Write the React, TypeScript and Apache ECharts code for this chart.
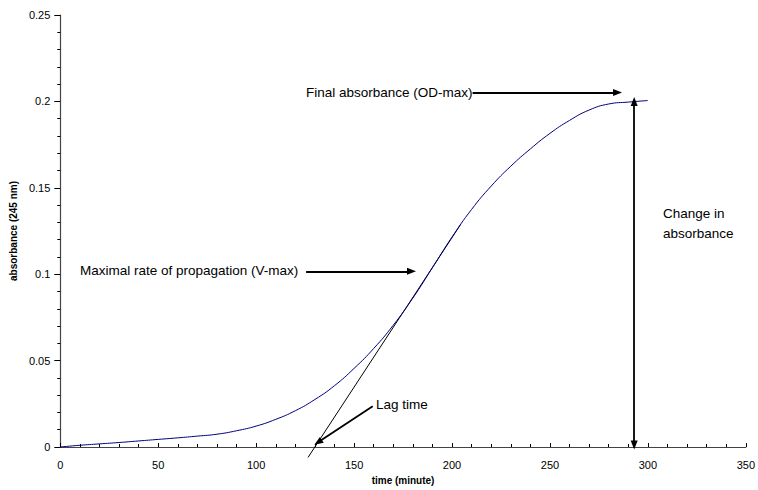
import React, { useEffect, useRef } from "react";
import * as echarts from "echarts";

const times = [0, 10, 20, 30, 40, 50, 60, 70, 80, 90, 100, 110, 120, 130, 140, 150, 160, 170, 180, 190, 200, 210, 220, 230, 240, 250, 260, 270, 280, 290, 300];
const absorbance = [0, 0.001, 0.0018, 0.0026, 0.0035, 0.0044, 0.0053, 0.0063, 0.0074, 0.0094, 0.0121, 0.016, 0.021, 0.0275, 0.0355, 0.0455, 0.057, 0.0705, 0.0862, 0.1038, 0.1215, 0.1375, 0.151, 0.1625, 0.1725, 0.1815, 0.189, 0.195, 0.1985, 0.1996, 0.2005];

const xTicks = [0, 50, 100, 150, 200, 250, 300, 350];
const yTicks = [0, 0.05, 0.1, 0.15, 0.2, 0.25];

// annotation anchor points in data units [time, absorbance]
const tangentLine = [[126.5, -0.006], [204.5, 0.1290]];
const odMaxArrow = [[210.5, 0.2052], [284.5, 0.2052]];
const changeArrow = [[293, 0.2], [293, 0.0012]];
const vMaxArrow = [[125.5, 0.1017], [179.3, 0.1017]];
const lagArrow = [[159.5, 0.0236], [131.6, 0.0027]];

const texts = {
  odMax: "Final absorbance (OD-max)",
  vMax: "Maximal rate of propagation (V-max)",
  lag: "Lag time",
  change: "Change in\nabsorbance",
};

export default function App() {
  const ref = useRef<HTMLDivElement>(null);
  useEffect(() => {
    document.body.style.margin = "0";
    const chart = echarts.init(ref.current!, null, { renderer: "svg" });
    const font = "Arial, 'Liberation Sans', sans-serif";
    const arrowLine = { color: "#000", width: 1.8, type: "solid" as const };
    const pair = (p: number[][], s0: string, s1: string, ls: any) => [
      { coord: p[0], symbol: s0, lineStyle: ls },
      { coord: p[1], symbol: s1 },
    ];
    chart.setOption({
      animation: false,
      backgroundColor: "#fff",
      textStyle: { fontFamily: font },
      grid: { left: 57, right: 6, top: 15, bottom: 39, containLabel: false },
      xAxis: {
        type: "value",
        min: xTicks[0],
        max: xTicks[xTicks.length - 1],
        interval: 50,
        name: "time (minute)",
        nameLocation: "middle",
        nameGap: 28,
        nameTextStyle: { fontWeight: "bold", fontSize: 10, color: "#000", fontFamily: font },
        axisLine: { show: true, lineStyle: { color: "#444", width: 1.2 } },
        axisTick: { show: true, inside: true, length: 4, lineStyle: { color: "#000" } },
        minorTick: { show: true, splitNumber: 5, length: 3, lineStyle: { color: "#000" } },
        axisLabel: { fontSize: 11, color: "#000", margin: 12, fontFamily: font },
        splitLine: { show: false },
      },
      yAxis: {
        type: "value",
        min: yTicks[0],
        max: yTicks[yTicks.length - 1],
        interval: 0.05,
        name: "absorbance (245 nm)",
        nameLocation: "middle",
        nameGap: 40,
        nameTextStyle: { fontWeight: "bold", fontSize: 10, color: "#000", fontFamily: font },
        axisLine: { show: true, lineStyle: { color: "#444", width: 1.2 } },
        axisTick: { show: true, inside: false, length: 6, lineStyle: { color: "#000" } },
        minorTick: { show: true, splitNumber: 5, length: 3, lineStyle: { color: "#000" } },
        axisLabel: { fontSize: 11, color: "#000", margin: 10, fontFamily: font },
        splitLine: { show: false },
      },
      series: [
        {
          type: "line",
          data: tangentLine,
          symbol: "none",
          showSymbol: false,
          clip: false,
          silent: true,
          lineStyle: { color: "#000", width: 1 },
          z: 1,
        },
        {
          type: "line",
          data: times.map((t, i) => [t, absorbance[i]]),
          smooth: true,
          showSymbol: false,
          symbol: "none",
          lineStyle: { color: "#000080", width: 1 },
          clip: false,
          z: 2,
          markLine: {
            silent: true,
            animation: false,
            label: { show: false },
            symbolSize: [7, 9],
            data: [
              pair(odMaxArrow, "none", "triangle", arrowLine),
              pair(changeArrow, "triangle", "triangle", arrowLine),
              pair(vMaxArrow, "none", "triangle", arrowLine),
              pair(lagArrow, "none", "triangle", arrowLine),
            ],
          },
        },
      ],
      graphic: [
        { type: "text", left: 306, top: 85, style: { text: texts.odMax, fontSize: 13.5, fill: "#000", fontFamily: font } },
        { type: "text", left: 80, top: 263, style: { text: texts.vMax, fontSize: 13.5, fill: "#000", fontFamily: font } },
        { type: "text", left: 376, top: 397, style: { text: texts.lag, fontSize: 13.5, fill: "#000", fontFamily: font } },
        { type: "text", left: 663, top: 203, style: { text: texts.change, fontSize: 13.5, lineHeight: 20, fill: "#000", fontFamily: font } },
      ],
    });
    return () => chart.dispose();
  }, []);
  return <div ref={ref} style={{ width: 758, height: 490 }} />;
}
